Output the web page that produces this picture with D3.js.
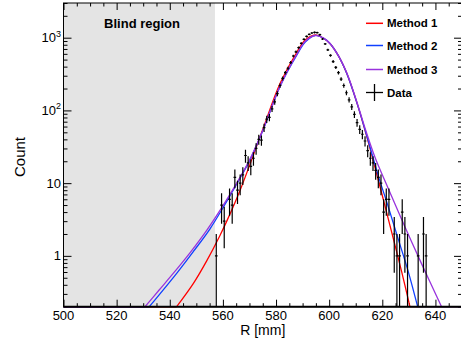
<!DOCTYPE html>
<html>
<head>
<meta charset="utf-8">
<script src="https://cdn.jsdelivr.net/npm/d3@7/dist/d3.min.js"></script>
<style>
  body { margin: 0; background: #fff; }
  svg { display: block; font-family: "Liberation Sans", Arial, Helvetica, sans-serif; }
</style>
</head>
<body>
<div id="chart"></div>
<script>
// histogram (non-empty bins only): bin centre [mm] and counts
const dataR = [557.5, 559.5, 560.5, 562.5, 563.5, 564.5, 565.5, 566.5, 567.5, 568.5,
  569.5, 570.5, 571.5, 572.5, 573.5, 574.5, 575.5, 576.5, 577.5, 578.5,
  579.5, 580.5, 581.5, 582.5, 583.5, 584.5, 585.5, 586.5, 587.5, 588.5,
  589.5, 590.5, 591.5, 592.5, 593.5, 594.5, 595.5, 596.5, 597.5, 598.5,
  599.5, 600.5, 601.5, 602.5, 603.5, 604.5, 605.5, 606.5, 607.5, 608.5,
  609.5, 610.5, 611.5, 612.5, 613.5, 614.5, 615.5, 616.5, 617.5, 618.5,
  619.5, 620.5, 621.5, 622.5, 624.5, 625.5, 626.5, 627.5, 628.5, 629.5,
  633.5, 635.5, 636.5];
const dataCount = [1, 5, 3, 6, 5, 12, 8, 10, 13, 24,
  19, 17, 22, 30, 40, 39, 58, 76, 80, 105,
  131, 170, 220, 275, 330, 380, 455, 560, 640, 730,
  835, 950, 1040, 1110, 1160, 1180, 1175, 1100, 960, 820,
  680, 570, 470, 390, 330, 270, 220, 175, 140, 112,
  88, 68, 55, 47, 38, 28, 22, 19, 15, 12,
  10, 4, 6, 6, 2, 1, 1, 4, 2, 1,
  1, 2, 1];

// fitted curves (0.2 = lying on the axis floor)
const m1R = [500, 542.6, 548.9, 553.9, 558.9, 562.7, 566.4, 570.2, 575.2, 581.5, 587.8, 591, 594.7, 598, 600.3, 603.5, 606.6, 610.3, 614, 617, 620, 623.5, 627.3, 630.4, 650];
const m1Y = [0.2, 0.2, 0.418, 0.853, 1.91, 3.78, 7.85, 18.2, 57.5, 234, 631, 933, 1096, 977, 832, 562, 324, 132, 45.7, 17.8, 6.76, 2.14, 0.603, 0.2, 0.2];
const m2R = [500, 532.3, 542.6, 548.9, 555.1, 560, 565.2, 570.2, 575.2, 581.5, 587.8, 591, 594.7, 598, 600.3, 603.5, 606.6, 610.3, 614, 618.5, 622.2, 626, 629.8, 633.3, 650];
const m2Y = [0.2, 0.2, 0.575, 1.15, 2.34, 4.57, 9.77, 20.9, 55, 214, 575, 871, 1072, 977, 832, 562, 324, 132, 46.8, 12.6, 4.79, 1.7, 0.603, 0.2, 0.2];
const m3R = [500, 530.7, 536, 541.3, 547.6, 553.9, 559.5, 565.2, 570.2, 575.2, 581.5, 587.8, 591, 594.7, 598, 600.3, 603.5, 606.6, 610.3, 614, 617.2, 622.2, 628.5, 634.8, 642.3, 650];
const m3Y = [0.2, 0.2, 0.339, 0.573, 1.1, 2.24, 4.57, 10, 21.4, 55, 214, 589, 891, 1072, 977, 832, 562, 331, 135, 50.1, 22.9, 8.51, 2.51, 0.776, 0.2, 0.2];

const legendLabels = ["Method 1", "Method 2", "Method 3", "Data"];
const xTicks = [500, 520, 540, 560, 580, 600, 620, 640];
const yTicks = [1, 10, 100, 1000];
const blindEdge = 557;

const W = 461, H = 339;
const box = { left: 63.5, right: 462, top: 3, bottom: 306.7 };
const colors = ["#ff0000", "#1040ff", "#9933dd"];

const svg = d3.select("#chart").append("svg").attr("width", W).attr("height", H);

const x = d3.scaleLinear().domain([500, 650]).range([box.left, box.right]);
const y = d3.scaleLog().domain([0.2, 3000]).range([box.bottom, box.top]);
const yFloor = y.domain()[0];

// blind region
svg.append("rect")
  .attr("x", x(500)).attr("y", box.top)
  .attr("width", x(blindEdge) - x(500)).attr("height", box.bottom - box.top)
  .attr("fill", "#e4e4e4");

svg.append("text")
  .attr("x", 142).attr("y", 28)
  .attr("text-anchor", "middle")
  .attr("font-size", 13).attr("font-weight", "bold")
  .text("Blind region");

// axes (ticks inside the frame, on all four sides)
const xMinor = d3.range(500, 651, 5).filter(v => v % 20 !== 0);
const yMinor = [];
[0.1, 1, 10, 100, 1000].forEach(d => {
  for (let k = 2; k <= 9; k++) {
    const v = d * k;
    if (v >= 0.2 && v <= 3000) yMinor.push(v);
  }
});

function tickAxis(axis, sel, size) {
  const g = svg.append("g").attr("transform", sel);
  g.call(axis.tickSizeInner(size).tickSizeOuter(0).tickFormat(""));
  g.select(".domain").remove();
  g.selectAll("line").attr("stroke", "#000").attr("stroke-width", 1);
  return g;
}

tickAxis(d3.axisBottom(x).tickValues(xTicks), `translate(0,${box.bottom})`, -7);
tickAxis(d3.axisBottom(x).tickValues(xMinor), `translate(0,${box.bottom})`, -3.5);
tickAxis(d3.axisTop(x).tickValues(xTicks), `translate(0,${box.top})`, -7);
tickAxis(d3.axisTop(x).tickValues(xMinor), `translate(0,${box.top})`, -3.5);
tickAxis(d3.axisLeft(y).tickValues(yTicks), `translate(${box.left},0)`, -8);
tickAxis(d3.axisLeft(y).tickValues(yMinor), `translate(${box.left},0)`, -4);
tickAxis(d3.axisRight(y).tickValues(yTicks), `translate(${box.right},0)`, -8);
tickAxis(d3.axisRight(y).tickValues(yMinor), `translate(${box.right},0)`, -4);

// tick labels
svg.append("g").selectAll("text").data(xTicks).join("text")
  .attr("x", d => x(d)).attr("y", 319.5)
  .attr("text-anchor", "middle").attr("font-size", 13)
  .text(d => d);

const yLab = svg.append("g").selectAll("text").data(yTicks).join("text")
  .attr("x", 61).attr("y", d => y(d) + 4.5)
  .attr("text-anchor", "end").attr("font-size", 13);
yLab.each(function (d) {
  const t = d3.select(this);
  const p = Math.round(Math.log10(d));
  if (p < 2) { t.text(d); return; }
  t.append("tspan").text("10");
  t.append("tspan").attr("dy", -5.5).attr("font-size", 9).text(p);
});

// axis titles
svg.append("text")
  .attr("x", (box.left + box.right) / 2).attr("y", 335)
  .attr("text-anchor", "middle").attr("font-size", 14)
  .text("R [mm]");
svg.append("text")
  .attr("transform", "translate(25,157) rotate(-90)")
  .attr("text-anchor", "middle").attr("font-size", 15)
  .text("Count");

// fit curves
svg.append("clipPath").attr("id", "plotClip").append("rect")
  .attr("x", box.left).attr("y", box.top - 1)
  .attr("width", box.right - box.left).attr("height", box.bottom - box.top + 2);

const curves = [[m1R, m1Y], [m2R, m2Y], [m3R, m3Y]];
const smooth = d3.line().x(d => x(d[0])).y(d => y(d[1])).curve(d3.curveCatmullRom.alpha(0.5));
const flat = d3.line().x(d => x(d[0])).y(d => y(d[1]));
const curveG = svg.append("g").attr("clip-path", "url(#plotClip)");

function splitFloor(rs, ys) {
  const pts = rs.map((r, j) => [r, ys[j]]);
  let a = 0, b = pts.length - 1;
  while (a < b && pts[a + 1][1] <= yFloor) a++;
  while (b > a && pts[b - 1][1] <= yFloor) b--;
  return { left: pts.slice(0, a + 1), mid: pts.slice(a, b + 1), right: pts.slice(b) };
}

curves.forEach(([rs, ys], i) => {
  const s = splitFloor(rs, ys);
  [[s.left, flat], [s.mid, smooth], [s.right, flat]].forEach(([p, gen]) => {
    curveG.append("path").attr("d", gen(p))
      .attr("fill", "none").attr("stroke", colors[i]).attr("stroke-width", 1.3);
  });
});

// frame
svg.append("rect")
  .attr("x", box.left).attr("y", box.top)
  .attr("width", box.right - box.left).attr("height", box.bottom - box.top)
  .attr("fill", "none").attr("stroke", "#000").attr("stroke-width", 1);
svg.append("line")
  .attr("x1", box.left).attr("x2", box.right)
  .attr("y1", box.bottom).attr("y2", box.bottom)
  .attr("stroke", "#000").attr("stroke-width", 2);

// left floor parts show over the axis line
curves.forEach(([rs, ys], i) => {
  const s = splitFloor(rs, ys);
  if (s.left.length > 1) {
    curveG.append("path").attr("d", flat(s.left))
      .attr("fill", "none").attr("stroke", colors[i]).attr("stroke-width", 1.6);
  }
});

// data with error bars
const dataG = svg.append("g").attr("clip-path", "url(#plotClip)")
  .attr("stroke", "#000").attr("stroke-width", 1.2);
dataR.forEach((r, i) => {
  const n = dataCount[i], e = Math.sqrt(n);
  dataG.append("line")
    .attr("x1", x(r)).attr("x2", x(r))
    .attr("y1", y(n + e)).attr("y2", n - e > 0 ? y(Math.max(n - e, yFloor)) : box.bottom);
  dataG.append("line")
    .attr("x1", x(r - 0.5)).attr("x2", x(r + 0.5))
    .attr("y1", y(n)).attr("y2", y(n));
});

// legend
const legendY = [23.3, 45.5, 69.5, 92.5];
const leg = svg.append("g");
legendLabels.forEach((lab, i) => {
  const yy = legendY[i];
  if (i < 3) {
    leg.append("line").attr("x1", 366).attr("x2", 383).attr("y1", yy).attr("y2", yy)
      .attr("stroke", colors[i]).attr("stroke-width", 1.5);
  } else {
    leg.append("line").attr("x1", 366).attr("x2", 383).attr("y1", yy).attr("y2", yy)
      .attr("stroke", "#000").attr("stroke-width", 1.3);
    leg.append("line").attr("x1", 374.5).attr("x2", 374.5).attr("y1", yy - 8.5).attr("y2", yy + 8.5)
      .attr("stroke", "#000").attr("stroke-width", 1.3);
  }
  leg.append("text").attr("x", 387).attr("y", yy + 4)
    .attr("font-size", 11.5).attr("font-weight", "bold")
    .text(lab);
});
</script>
</body>
</html>
